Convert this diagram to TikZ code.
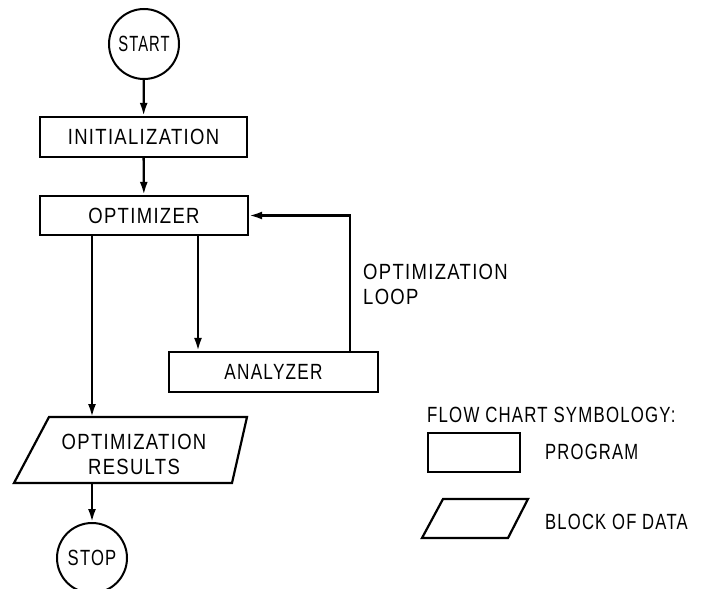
\documentclass[tikz,border=0pt]{standalone}
\usepackage{fontspec}
\setmainfont{Liberation Sans}[FakeStretch=0.84,LetterSpace=6]
\usetikzlibrary{arrows.meta,calc}
\begin{document}
\begin{tikzpicture}[x=1pt,y=-1pt,
  every node/.style={font=\fontsize{22}{25}\selectfont, inner sep=0pt},
  prog/.style={draw, line width=2.3pt, rectangle},
  term/.style={draw, line width=2pt, circle, minimum size=70pt},
  txt/.style={align=center},
  shp/.style={line width=2.2pt, line join=miter},
  arr/.style={line width=2.3pt, -{Latex[length=13pt,width=8pt]}}]
\useasboundingbox (0,0) rectangle (707,589);
% flow chart
\node[term] (start) at (144,44) {\scalebox{0.8}[1]{START}};
\node[prog, minimum width=207pt, minimum height=40pt] (init) at (143.5,137) {INITIALIZATION};
\node[prog, minimum width=208pt, minimum height=39pt] (opt) at (144,215.5) {OPTIMIZER};
\node[prog, minimum width=209pt, minimum height=40pt] (ana) at (273.5,372) {\scalebox{0.93}[1]{ANALYZER}};
\node[txt] (res) at (134,454) {OPTIMIZATION\\RESULTS};
\coordinate (rtop) at ($(res.center)+(0,-37)$);
\coordinate (rbot) at ($(res.center)+(0,29)$);
\draw[shp] ($(res.center)+(-120,29)$) -- ($(res.center)+(-85,-37)$) -- ($(res.center)+(113,-37)$) -- ($(res.center)+(98,29)$) -- cycle;
\node[term] (stop) at (92,558) {\scalebox{0.9}[1]{STOP}};
\coordinate (lx) at (92,0);
\coordinate (mx) at (198,0);
\coordinate (rx) at (350,0);
\draw[arr] (start) -- (init);
\draw[arr] (init) -- (opt);
\draw[arr] (opt.south -| mx) -- (ana.north -| mx);
\draw[arr] (opt.south -| lx) -- (rtop -| lx);
\draw[arr] (rbot -| lx) -- (stop);
\draw[arr] (ana.north -| rx) |- (opt.east);
\node[anchor=west, align=left] (looplbl) at (363,284) {OPTIMIZATION\\LOOP};
% legend
\node[anchor=west] (legtitle) at (427,415) {\scalebox{0.91}[1]{FLOW CHART SYMBOLOGY:}};
\node[prog, minimum width=92pt, minimum height=39pt] (legprog) at (474,452.5) {};
\node[anchor=west] (legproglbl) at (545,452) {\scalebox{0.9}[1]{PROGRAM}};
\coordinate (legdata) at (475,518.5);
\draw[shp] ($(legdata)+(-53,19.5)$) -- ($(legdata)+(-32,-19.5)$) -- ($(legdata)+(53,-19.5)$) -- ($(legdata)+(33,19.5)$) -- cycle;
\node[anchor=west] (legdatalbl) at (545,522) {\scalebox{0.9}[1]{BLOCK OF DATA}};
\end{tikzpicture}
\end{document}
